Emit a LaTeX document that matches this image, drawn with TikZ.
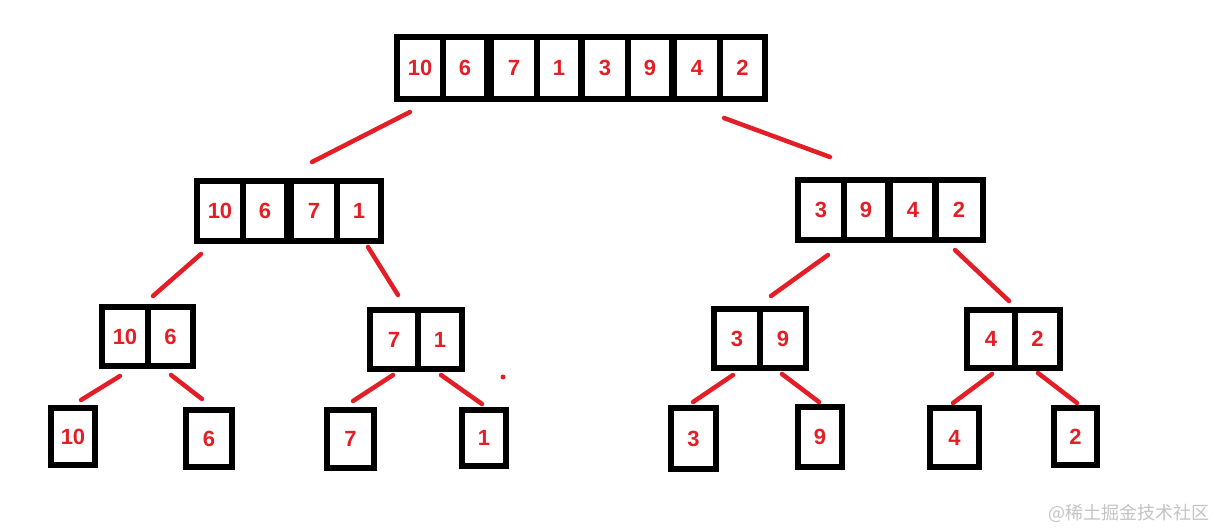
\documentclass[tikz,border=0pt]{standalone}
\usepackage{fontspec}
\setmainfont{Liberation Sans}
\newfontfamily\numfont{Liberation Sans}
\newfontfamily\cjkfont{Noto Sans CJK SC}
\definecolor{numred}{RGB}{228,30,38}
\definecolor{wmgray}{RGB}{196,196,196}
\tikzset{
  cell/.style={draw=black, line width=6pt, inner sep=0pt, outer sep=0pt,
    minimum width=46pt, minimum height=60pt, text=numred,
    font=\numfont\bfseries\fontsize{22}{22}\selectfont},
  link/.style={draw=numred, line width=4.5pt, line cap=round}
}
\begin{document}
\begin{tikzpicture}[x=1pt,y=-1pt]
\fill[white] (0,0) rectangle (1218,531);
\useasboundingbox (0,0) rectangle (1218,531);
% top array
\node[cell, minimum height=62.5pt] (a1) at (420,67.75) {10};
\node[cell, minimum height=62.5pt, minimum width=44pt] (a2) at (465,67.75) {6};
\node[cell, minimum height=62.5pt] (a3) at (514,67.75) {7};
\node[cell, minimum height=62.5pt, minimum width=44pt] (a4) at (559,67.75) {1};
\node[cell, minimum height=62.5pt] (a5) at (605,67.75) {3};
\node[cell, minimum height=62.5pt, minimum width=44pt] (a6) at (650,67.75) {9};
\node[cell, minimum height=62.5pt] (a7) at (697,67.75) {4};
\node[cell, minimum height=62.5pt, minimum width=45pt] (a8) at (742.5,67.75) {2};
% level 2 left
\node[cell] (b1) at (220,211) {10};
\node[cell, minimum width=44pt] (b2) at (265,211) {6};
\node[cell] (b3) at (314,211) {7};
\node[cell, minimum width=44pt] (b4) at (359,211) {1};
% level 2 right
\node[cell] (c1) at (821,210) {3};
\node[cell, minimum width=44pt] (c2) at (866,210) {9};
\node[cell] (c3) at (913,210) {4};
\node[cell, minimum width=48pt] (c4) at (959,210) {2};
% level 3
\node[cell, minimum height=59pt] (d1) at (125,336.5) {10};
\node[cell, minimum height=59pt, minimum width=45pt] (d2) at (170.5,336.5) {6};
\node[cell, minimum height=59pt, minimum width=48pt] (e1) at (394,339.5) {7};
\node[cell, minimum height=59pt, minimum width=44pt] (e2) at (440,339.5) {1};
\node[cell, minimum height=59pt] (f1) at (737,338.5) {3};
\node[cell, minimum height=59pt] (f2) at (783,338.5) {9};
\node[cell, minimum height=58pt, minimum width=48pt] (g1) at (991,339) {4};
\node[cell, minimum height=58pt, minimum width=45pt] (g2) at (1037.5,339) {2};
% leaves
\node[cell, minimum width=44pt, minimum height=57pt] (h1) at (73,436.5) {10};
\node[cell, minimum width=46pt, minimum height=57pt] (h2) at (209,438.5) {6};
\node[cell, minimum width=47pt, minimum height=58pt] (h3) at (350.5,439) {7};
\node[cell, minimum width=44pt, minimum height=56pt] (h4) at (484,438) {1};
\node[cell, minimum width=45pt, minimum height=61pt] (h5) at (693.5,438.5) {3};
\node[cell, minimum width=44pt, minimum height=60pt] (h6) at (820,437) {9};
\node[cell, minimum width=49pt, minimum height=59pt] (h7) at (954.5,437.5) {4};
\node[cell, minimum width=43pt, minimum height=57pt] (h8) at (1075.5,436.5) {2};
% connector end points
\coordinate (p1) at (410,112); \coordinate (q1) at (312,162);
\coordinate (p2) at (724,118); \coordinate (q2) at (830,157);
\coordinate (p3) at (201,254); \coordinate (q3) at (153,296);
\coordinate (p4) at (368,247); \coordinate (q4) at (398,295);
\coordinate (p5) at (828,255); \coordinate (q5) at (771,296);
\coordinate (p6) at (955,250); \coordinate (q6) at (1009,301);
\coordinate (p7) at (120,376); \coordinate (q7) at (81,400);
\coordinate (p8) at (171,375); \coordinate (q8) at (202,399);
\coordinate (p9) at (393,375); \coordinate (q9) at (353,401);
\coordinate (p10) at (441,375); \coordinate (q10) at (482,404);
\coordinate (p11) at (733,375); \coordinate (q11) at (693,402);
\coordinate (p12) at (782,374); \coordinate (q12) at (819,402);
\coordinate (p13) at (992,374); \coordinate (q13) at (953,403);
\coordinate (p14) at (1038,373); \coordinate (q14) at (1077,403);
\coordinate (dot) at (503,377);
\foreach \i in {1,...,14} { \draw[link] (p\i) -- (q\i); }
\fill[numred] (dot) circle (2.5pt);
% watermark
\node[anchor=east, text=wmgray, inner sep=0pt, font=\cjkfont\fontsize{18}{18}\selectfont] (wm) at (1210,513) {@稀土掘金技术社区};
\end{tikzpicture}
\end{document}
